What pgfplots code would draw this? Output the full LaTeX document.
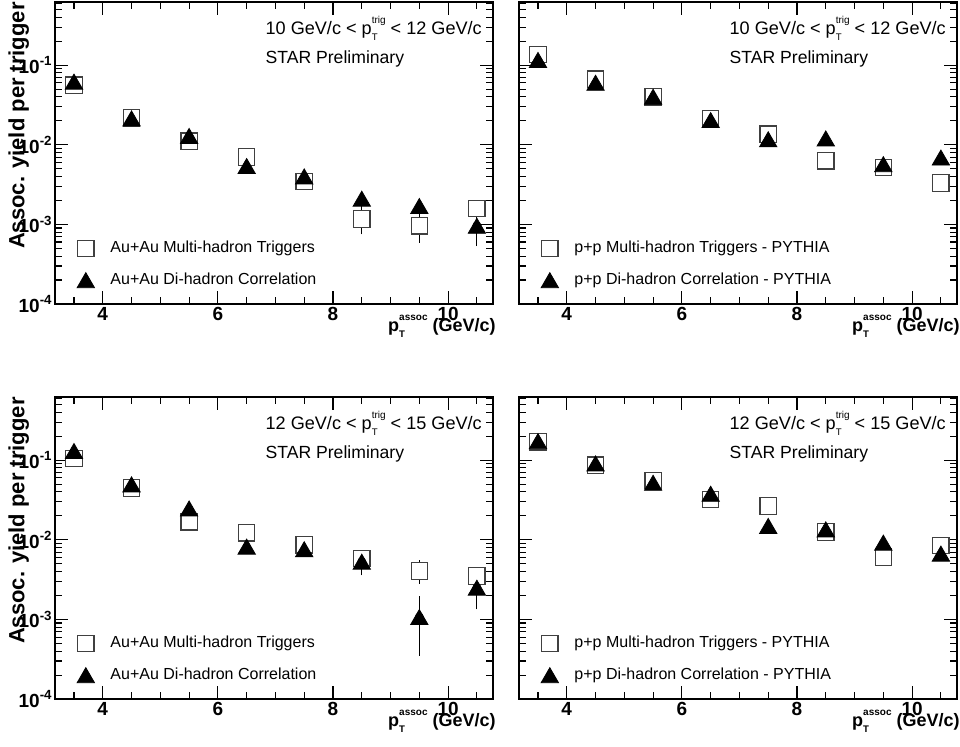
\documentclass[border=0pt]{standalone}
\usepackage{fontspec}
\setmainfont{Liberation Sans}
\usepackage{pgfplots}
\pgfplotsset{compat=1.18}
\usepgfplotslibrary{groupplots}

% p_T with a small subscript T and a small superscript
\newcommand{\ptlab}[1]{p\rlap{\raisebox{-3.2pt}{\fontsize{4.8}{5}\selectfont T}}\raisebox{5.5pt}{\fontsize{5}{5}\selectfont #1}}
\newcommand{\hdrfont}{\fontsize{9.05}{10}\selectfont}
\newcommand{\starfont}{\fontsize{8.8}{10}\selectfont}

\pgfplotsset{
  starleft/.style={
    yticklabels={10\textsuperscript{-4},10\textsuperscript{-3},10\textsuperscript{-2},10\textsuperscript{-1}},
    ylabel={Assoc. yield per trigger},
    ylabel style={at={(axis description cs:-0.107,1)}, anchor=north east,
                  inner sep=0pt, font=\bfseries\fontsize{11}{12}\selectfont},
  },
  starright/.style={yticklabels={}},
  sqmark/.style={only marks, mark=square*, mark size=4.1pt,
             mark options={fill=white, draw=black!75, line width=0.6pt}},
  trimark/.style={only marks, mark=triangle*, mark size=5pt,
              mark options={fill=black, draw=black, yshift=-1.25pt}},
  errbars/.style={only marks, mark=none, forget plot, black,
              error bars/.cd, y dir=both, y explicit,
              error bar style={line width=0.5pt, black},
              error mark options={line width=0.5pt, mark size=2pt, black}},
}

\begin{document}
\begin{tikzpicture}
\begin{groupplot}[
  group style={group size=2 by 2, horizontal sep=13pt, vertical sep=46.5pt},
  width=219pt, height=151pt, scale only axis,
  ymode=log,
  xmin=3.17, xmax=10.78, ymin=1e-4, ymax=0.62,
  xtick={4,6,8,10}, xticklabels={4,6,8,10},
  minor xtick={3.5,4.5,5,5.5,6.5,7,7.5,8.5,9,9.5,10.5},
  ytick={1e-4,1e-3,1e-2,1e-1},
  minor ytick={2e-4,3e-4,4e-4,5e-4,6e-4,7e-4,8e-4,9e-4,
               2e-3,3e-3,4e-3,5e-3,6e-3,7e-3,8e-3,9e-3,
               0.02,0.03,0.04,0.05,0.06,0.07,0.08,0.09,
               0.2,0.3,0.4,0.5,0.6},
  tick align=inside,
  major tick length=6.5pt, minor tick length=3.5pt,
  axis line style={line width=0.9pt},
  every tick/.style={black, line width=0.55pt},
  tick label style={font=\bfseries\fontsize{9.5}{10}\selectfont},
  xticklabel style={yshift=2pt},
  yticklabel style={inner xsep=1pt},
  xlabel={\ptlab{assoc} (GeV/c)},
  xlabel style={at={(axis description cs:1,0)}, anchor=base east,
                yshift=-13.5pt, xshift=1.5pt, inner sep=0pt,
                font=\bfseries\fontsize{9}{10}\selectfont},
  legend style={at={(axis description cs:0.036,0.027)}, anchor=south west,
                draw=none, fill=none, row sep=4.5pt,
                font=\fontsize{8}{9}\selectfont,
                /tikz/every odd column/.append style={column sep=6pt}},
  legend cell align=left,
]

% top left: Au+Au, 10 < pT trig < 12
\nextgroupplot[starleft]
\addplot[errbars] coordinates {(8.5,0.00117) +- (0,0.00033) (9.5,0.00096) +- (0,0.0003)};
\addplot[sqmark] coordinates {(3.5,0.056) (4.5,0.0218) (5.5,0.0111) (6.5,0.0070)
  (7.5,0.00344) (8.5,0.00117) (9.5,0.00096) (10.5,0.00158)};
\addlegendentry{Au+Au Multi-hadron Triggers}
\addplot[errbars] coordinates {(10.5,0.00096) +- (0,0.00036)};
\addplot[trimark] coordinates {(3.5,0.062) (4.5,0.0214) (5.5,0.0129) (6.5,0.0054)
  (7.5,0.0040) (8.5,0.0021) (9.5,0.0017) (10.5,0.00096)};
\addlegendentry{Au+Au Di-hadron Correlation}
\node[anchor=base west, inner sep=0pt, font=\hdrfont]
  at (rel axis cs:0.48,0.893) {10 GeV/c < \ptlab{trig} < 12 GeV/c};
\node[anchor=base west, inner sep=0pt, font=\starfont]
  at (rel axis cs:0.48,0.795) {STAR Preliminary};

% top right: p+p PYTHIA, 10 < pT trig < 12
\nextgroupplot[starright]
\addplot[sqmark] coordinates {(3.5,0.136) (4.5,0.0667) (5.5,0.0401) (6.5,0.0214)
  (7.5,0.0136) (8.5,0.0063) (9.5,0.0052) (10.5,0.0033)};
\addlegendentry{p+p Multi-hadron Triggers - PYTHIA}
\addplot[trimark] coordinates {(3.5,0.116) (4.5,0.060) (5.5,0.040) (6.5,0.0204)
  (7.5,0.0117) (8.5,0.0120) (9.5,0.0057) (10.5,0.0069)};
\addlegendentry{p+p Di-hadron Correlation - PYTHIA}
\node[anchor=base west, inner sep=0pt, font=\hdrfont]
  at (rel axis cs:0.48,0.893) {10 GeV/c < \ptlab{trig} < 12 GeV/c};
\node[anchor=base west, inner sep=0pt, font=\starfont]
  at (rel axis cs:0.48,0.795) {STAR Preliminary};

% bottom left: Au+Au, 12 < pT trig < 15
\nextgroupplot[starleft]
\addplot[errbars] coordinates {(9.5,0.00405) +- (0,0.0009)};
\addplot[sqmark] coordinates {(3.5,0.105) (4.5,0.0446) (5.5,0.0168) (6.5,0.0122)
  (7.5,0.00865) (8.5,0.00583) (9.5,0.00405) (10.5,0.0035)};
\addlegendentry{Au+Au Multi-hadron Triggers}
\addplot[errbars] coordinates {(8.5,0.0053) +- (0,0.0013) (9.5,0.00107) +- (0,0.00068)
  (10.5,0.0025) +- (0,0.001)};
\addplot[trimark] coordinates {(3.5,0.130) (4.5,0.0496) (5.5,0.0247) (6.5,0.0082)
  (7.5,0.0076) (8.5,0.0053) (9.5,0.00107) (10.5,0.0025)};
\addlegendentry{Au+Au Di-hadron Correlation}
\node[anchor=base west, inner sep=0pt, font=\hdrfont]
  at (rel axis cs:0.48,0.893) {12 GeV/c < \ptlab{trig} < 15 GeV/c};
\node[anchor=base west, inner sep=0pt, font=\starfont]
  at (rel axis cs:0.48,0.795) {STAR Preliminary};

% bottom right: p+p PYTHIA, 12 < pT trig < 15
\nextgroupplot[starright]
\addplot[sqmark] coordinates {(3.5,0.170) (4.5,0.0865) (5.5,0.0555) (6.5,0.032)
  (7.5,0.0265) (8.5,0.0125) (9.5,0.00605) (10.5,0.0085)};
\addlegendentry{p+p Multi-hadron Triggers - PYTHIA}
\addplot[trimark] coordinates {(3.5,0.173) (4.5,0.0908) (5.5,0.0519) (6.5,0.0378)
  (7.5,0.0149) (8.5,0.0135) (9.5,0.0092) (10.5,0.0067)};
\addlegendentry{p+p Di-hadron Correlation - PYTHIA}
\node[anchor=base west, inner sep=0pt, font=\hdrfont]
  at (rel axis cs:0.48,0.893) {12 GeV/c < \ptlab{trig} < 15 GeV/c};
\node[anchor=base west, inner sep=0pt, font=\starfont]
  at (rel axis cs:0.48,0.795) {STAR Preliminary};
\end{groupplot}
\path ([xshift=-27.5pt,yshift=1pt]group c1r1.north west)
  rectangle ([xshift=1.5pt,yshift=-23.5pt]group c2r2.south east);
\end{tikzpicture}
\end{document}
